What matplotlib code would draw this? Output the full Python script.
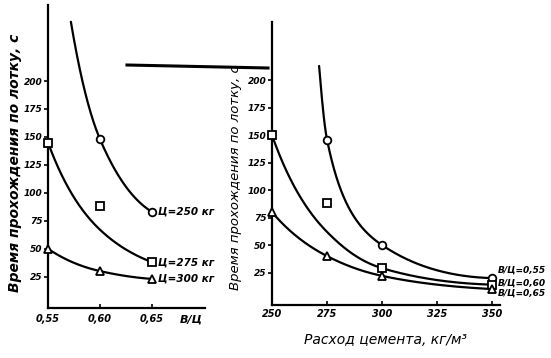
import numpy as np
import matplotlib
matplotlib.use("Agg")
import matplotlib.pyplot as plt
from matplotlib.lines import Line2D

# ---------------- data ----------------
# left panel: time vs W/C ratio for cement 250/275/300 kg
wc = [0.55, 0.60, 0.65]
wc_labels = ["0,55", "0,60", "0,65"]
t_c250 = [np.nan, 148, 83]
t_c275 = [145, 88, 38]
t_c300 = [50, 30, 23]
# smooth-curve nodes
curve250_x = [0.572, 0.60, 0.65]
curve250_y = [253, 148, 83]
curve275_x = [0.55, 0.60, 0.65]
curve275_y = [145, 67, 38]
curve300_x = [0.55, 0.60, 0.65]
curve300_y = [50, 30, 23]
left_names = ["Ц=250 кг", "Ц=275 кг", "Ц=300 кг"]

# right panel: time vs cement consumption for W/C 0.55/0.60/0.65
cem = [250, 275, 300, 350]
cem_ticks = [250, 275, 300, 325, 350]
cem_labels = ["250", "275", "300", "325", "350"]
t_w055 = [np.nan, 146, 50, 20]
t_w060 = [150, 88, 29, 14]
t_w065 = [80, 40, 22, 10]
curve055_x = [271.4, 275, 300, 350]
curve055_y = [213, 146, 50, 20]
curve060_x = [250, 275, 300, 350]
curve060_y = [150, 62, 29, 14]
curve065_x = [250, 275, 300, 350]
curve065_y = [80, 40, 22, 10]
right_names = ["В/Ц=0,55", "В/Ц=0,60", "В/Ц=0,65"]

y_ticks = [25, 50, 75, 100, 125, 150, 175, 200]


def pchip(x, y, xs):
    x = np.asarray(x, float); y = np.asarray(y, float)
    h = np.diff(x); d = np.diff(y) / h
    n = len(x); m = np.zeros(n)
    for k in range(1, n - 1):
        if d[k - 1] * d[k] <= 0:
            m[k] = 0
        else:
            w1 = 2 * h[k] + h[k - 1]; w2 = h[k] + 2 * h[k - 1]
            m[k] = (w1 + w2) / (w1 / d[k - 1] + w2 / d[k])
    if n > 2:
        m0 = ((2 * h[0] + h[1]) * d[0] - h[0] * d[1]) / (h[0] + h[1])
        if np.sign(m0) != np.sign(d[0]):
            m0 = 0
        m[0] = m0
        me = ((2 * h[-1] + h[-2]) * d[-1] - h[-1] * d[-2]) / (h[-1] + h[-2])
        if np.sign(me) != np.sign(d[-1]):
            me = 0
        m[-1] = me
    else:
        m[:] = d[0]
    xs = np.asarray(xs, float)
    idx = np.clip(np.searchsorted(x, xs) - 1, 0, n - 2)
    t = (xs - x[idx]) / h[idx]
    h00 = 2 * t**3 - 3 * t**2 + 1; h10 = t**3 - 2 * t**2 + t
    h01 = -2 * t**3 + 3 * t**2; h11 = t**3 - t**2
    return (h00 * y[idx] + h10 * h[idx] * m[idx] + h01 * y[idx + 1]
            + h11 * h[idx] * m[idx + 1])


def smooth(ax, cx, cy):
    xs = np.linspace(cx[0], cx[-1], 300)
    ys = np.exp(pchip(cx, np.log(cy), xs))
    ax.plot(xs, ys, color="black", lw=1.6, solid_capstyle="round")


W, H = 551, 358
fig = plt.figure(figsize=(W / 100, H / 100), dpi=100)
fig.patch.set_facecolor("white")

font = dict(family="DejaVu Sans", style="italic", weight="bold")

# ---------------- left panel ----------------
axL = fig.add_axes([48 / W, 1 - 308 / H, (205 - 48) / W, (308 - 5) / H])
axL.set_xlim(0.55, 0.701)
axL.set_ylim(-3, 268)
for c in [(curve250_x, curve250_y), (curve275_x, curve275_y), (curve300_x, curve300_y)]:
    smooth(axL, *c)
mk = dict(color="black", ls="none", mfc="white", mew=1.3, ms=5.5, clip_on=False, zorder=5)
axL.plot(wc, t_c250, marker="o", **mk)
axL.plot(wc, t_c275, marker="s", **mk)
axL.plot(wc, t_c300, marker="^", **mk)
for yv, name in zip([t_c250[-1], t_c275[-1], t_c300[-1]], left_names):
    axL.annotate(name, (wc[-1], yv), xytext=(4, 0), textcoords="offset points",
                 va="center", ha="left", fontsize=7.5, **font)
axL.set_xticks(wc)
axL.set_xticklabels(wc_labels, fontsize=7, **font)
axL.set_yticks(y_ticks)
axL.set_yticklabels([str(v) for v in y_ticks], fontsize=6.5, **font)
axL.tick_params(axis="y", direction="out", length=3, width=1.2, pad=1)
axL.tick_params(axis="x", direction="in", length=3, width=1.2, pad=4)
for s in ["top", "right"]:
    axL.spines[s].set_visible(False)
for s in ["left", "bottom"]:
    axL.spines[s].set_linewidth(1.6)
axL.text(0.688, -13, "В/Ц", fontsize=8, ha="center", va="center", clip_on=False, **font)
axL.set_ylabel("Время прохождения по лотку, с", fontsize=10, **font)
axL.yaxis.set_label_coords(-0.165, 0.48)
axL.set_facecolor("none")

# ---------------- right panel ----------------
axR = fig.add_axes([272 / W, 1 - 305 / H, (500 - 272) / W, (305 - 22) / H])
axR.set_xlim(250, 353.6)
axR.set_ylim(-4.5, 253)
for c in [(curve055_x, curve055_y), (curve060_x, curve060_y), (curve065_x, curve065_y)]:
    smooth(axR, *c)
axR.plot(cem, t_w055, marker="o", **mk)
axR.plot(cem, t_w060, marker="s", **mk)
axR.plot(cem, t_w065, marker="^", **mk)
for (yv, dy), name in zip([(t_w055[-1], 6), (t_w060[-1], 1), (t_w065[-1], -3)], right_names):
    axR.annotate(name, (cem[-1], yv), xytext=(4, dy), textcoords="offset points",
                 va="center", ha="left", fontsize=6.5, **font)
axR.set_xticks(cem_ticks)
axR.set_xticklabels(cem_labels, fontsize=7, **font)
axR.set_yticks(y_ticks)
axR.set_yticklabels([str(v) for v in y_ticks], fontsize=6.5, **font)
axR.tick_params(axis="y", direction="out", length=3, width=1.2, pad=1)
axR.tick_params(axis="x", direction="in", length=3, width=1.2, pad=3)
for s in ["top", "right"]:
    axR.spines[s].set_visible(False)
for s in ["left", "bottom"]:
    axR.spines[s].set_linewidth(1.6)
axR.set_ylabel("Время прохождения по лотку, с", fontsize=9.5,
               family="DejaVu Sans", style="italic")
axR.yaxis.set_label_coords(-0.13, 0.45)
axR.set_xlabel("Расход цемента, кг/м³", fontsize=10, labelpad=10,
               family="DejaVu Sans", style="italic")
axR.set_facecolor("none")

# stray horizontal stroke of the original drawing
fig.add_artist(Line2D([127 / W, 268 / W], [1 - 65 / H, 1 - 68 / H],
                      color="black", lw=2.2, transform=fig.transFigure))

fig.savefig("out.png", dpi=100, facecolor="white")
